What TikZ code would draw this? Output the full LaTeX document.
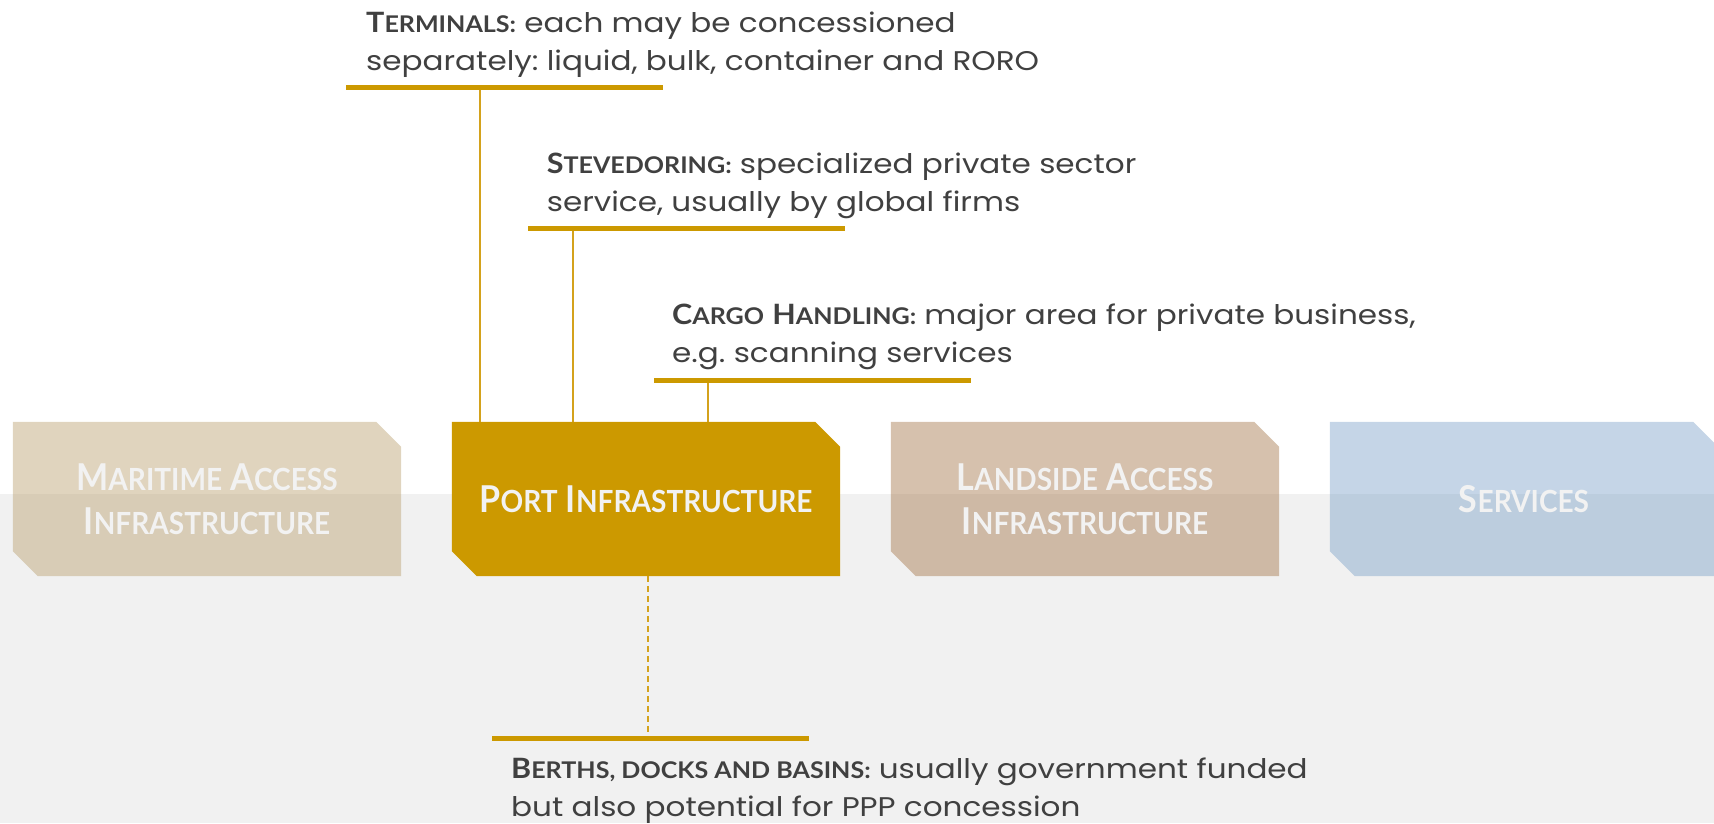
\documentclass[tikz,border=0pt]{standalone}
\usepackage{fontspec}
\setmainfont[FakeStretch=1.15]{Poppins}
\newfontfamily\capsfont[FakeStretch=0.92]{Lato}
\newfontfamily\headfont[FakeStretch=1.09]{Lato}
\frenchspacing

\definecolor{gold}{HTML}{CC9900}
\definecolor{linegold}{HTML}{D4A21C}
\definecolor{ink}{HTML}{404040}
\definecolor{band}{HTML}{F1F1F1}
\definecolor{boxtext}{HTML}{F2F2F2}
\definecolor{maritime}{HTML}{B89C69}
\definecolor{landside}{HTML}{AD835B}
\definecolor{services}{HTML}{6E97C2}

\pgfdeclarelayer{background}
\pgfsetlayers{background,main}

% bold lead-in set in small capitals: first letter large, rest small
\newcommand\lead[2]{{\headfont\bfseries\fontsize{28}{38}\selectfont #1\fontsize{23}{38}\selectfont #2}}
% box labels in small capitals
\newcommand\bcap[2]{{\fontsize{37}{44}\selectfont #1\fontsize{30.5}{44}\selectfont #2}}
% chamfered outline (top-right and bottom-left corners cut) behind a stage node
\newcommand\stageshape[2]{\fill[#2] (#1.north west) -- ([xshift=-25pt]#1.north east)
  -- ([yshift=-25pt]#1.north east) -- (#1.south east) -- ([xshift=25pt]#1.south west)
  -- ([yshift=25pt]#1.south west) -- cycle;}

\tikzset{
  stage/.style={rectangle, minimum width=388pt, minimum height=154pt,
    inner sep=0pt, align=center, text=boxtext,
    font=\capsfont\bfseries\fontsize{37}{44}\selectfont},
  note/.style={anchor=base west, inner sep=0pt, align=left, text=ink,
    font=\fontsize{27}{38}\selectfont},
  bar/.style={fill=gold, inner sep=0pt, minimum width=317pt, minimum height=5pt},
  link/.style={draw=linegold, line width=1.8pt},
}

\begin{document}
\begin{tikzpicture}[x=1pt,y=-1pt]
\useasboundingbox (0,0) rectangle (1714,823);

% value-chain stages
\node[stage] (maritime) at (207,499) {\bcap{M}{ARITIME} \bcap{A}{CCESS}\\\bcap{I}{NFRASTRUCTURE}};
\node[stage] (port) at (646,499) {\bcap{P}{ORT} \bcap{I}{NFRASTRUCTURE}};
\node[stage] (landside) at (1085,499) {\bcap{L}{ANDSIDE} \bcap{A}{CCESS}\\\bcap{I}{NFRASTRUCTURE}};
\node[stage] (services) at (1524,499) {\bcap{S}{ERVICES}};

\begin{pgfonlayer}{background}
  \fill[band] (0,494) rectangle (1714,823);
  \stageshape{maritime}{maritime, fill opacity=0.43}
  \stageshape{port}{gold}
  \stageshape{landside}{landside, fill opacity=0.5}
  \stageshape{services}{services, fill opacity=0.4}
\end{pgfonlayer}

% notes with their underline bars
\node[note] (terminals) at (366,70) {\lead{T}{ERMINALS:} each may be concessioned\\separately: liquid, bulk, container and RORO};
\node[bar] (tbar) at (504.5,87.5) {};

\node[note] (steve) at (546.6,211) {\lead{S}{TEVEDORING:} specialized private sector\\service, usually by global firms};
\node[bar] (sbar) at (686,228.5) {};

\node[note] (cargo) at (672,362) {\lead{C}{ARGO} \lead{H}{ANDLING:} major area for private business,\\e.g. scanning services};
\node[bar] (cbar) at (812.5,380.5) {};

\node[bar] (bbar) at (650,738.5) {};
\node[note] (berths) at (511,816) {\lead{B}{ERTHS, DOCKS AND BASINS:} usually government funded\\but also potential for PPP concession};

% connectors
\coordinate (t1) at (480,0);
\coordinate (s1) at (573,0);
\coordinate (c1) at (708,0);
\coordinate (b1) at (648,0);
\draw[link] (tbar.south -| t1) -- (port.north -| t1);
\draw[link] (sbar.south -| s1) -- (port.north -| s1);
\draw[link] (cbar.south -| c1) -- (port.north -| c1);
\draw[link, dash pattern=on 6pt off 4pt] (port.south -| b1) -- (bbar.north -| b1);
\end{tikzpicture}
\end{document}
